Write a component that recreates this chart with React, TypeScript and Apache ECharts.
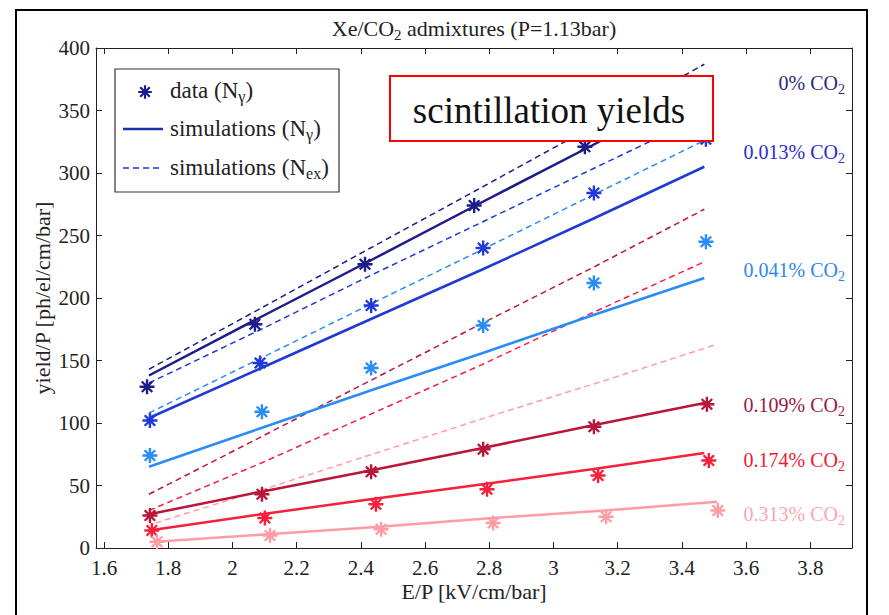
import React, { useEffect, useRef } from 'react';
import * as echarts from 'echarts';

const FONT = 'Liberation Serif';

// axis ticks
const xTicks = [1.6, 1.8, 2, 2.2, 2.4, 2.6, 2.8, 3, 3.2, 3.4, 3.6, 3.8];
const yTicks = [0, 50, 100, 150, 200, 250, 300, 350, 400];

// concentration labels
const concLabels = ['0%', '0.013%', '0.041%', '0.109%', '0.174%', '0.313%'];

// measured data (N_gamma)
const dataX0 = [1.734, 2.07, 2.413, 2.753, 3.098];
const dataY0 = [129, 179, 227, 274, 321];
const dataX1 = [1.743, 2.086, 2.432, 2.781, 3.126, 3.475];
const dataY1 = [102, 148, 194, 240, 284, 327];
const dataX2 = [1.743, 2.092, 2.432, 2.781, 3.126, 3.475];
const dataY2 = [74, 109, 144, 178, 212, 245];
const dataX3 = [1.743, 2.092, 2.432, 2.781, 3.126, 3.478];
const dataY3 = [26, 43, 61, 79, 97, 115];
const dataX4 = [1.749, 2.101, 2.447, 2.793, 3.139, 3.484];
const dataY4 = [14, 24, 35, 47, 58, 70];
const dataX5 = [1.765, 2.117, 2.463, 2.812, 3.164, 3.512];
const dataY5 = [5, 10, 15, 20, 25, 30];

// simulations
const simX = [1.74, 2.09, 2.43, 2.78, 3.12, 3.47];
const simX5 = [1.76, 2.11, 2.46, 2.81, 3.16, 3.51];
const simNg0 = [138, 185, 230, 277, 322, 369];
const simNex0 = [143, 192, 240, 289, 337, 387];
const simNg1 = [104, 144, 183, 223, 263, 305];
const simNex1 = [132, 175, 218, 261, 303, 346];
const simNg2 = [65, 96, 126, 156, 186, 216];
const simNex2 = [108, 152, 195, 239, 282, 326];
const simNg3 = [27, 45, 62, 80, 98, 116];
const simNex3 = [43, 89, 134, 180, 224, 271];
const simNg4 = [14, 27, 39, 51, 63, 76];
const simNex4 = [30, 68, 107, 147, 188, 229];
const simNg5 = [5, 11, 17, 24, 30, 37];
const simNex5 = [20, 48, 77, 106, 134, 163];

const colors = ['#1c1c8a', '#1f3ad6', '#2a8cf8', '#b8163a', '#f4203c', '#ff9ca4'];
const labelColors = ['#2a2a7a', '#2b2bd0', '#2e86f0', '#9c1848', '#ee1a30', '#ffa6ae'];
const labelY = [83, 152, 270, 405, 460, 514];

const STAR =
  'M-1.6,-10L1.6,-10L1.6,10L-1.6,10Z M-10,-1.6L10,-1.6L10,1.6L-10,1.6Z M-5.87,-8.13L8.13,5.87L5.87,8.13L-8.13,-5.87Z M8.13,-5.87L-5.87,8.13L-8.13,5.87L5.87,-8.13Z';

let registered = false;

const zip = (xs: number[], ys: number[]) => xs.map((x, i) => [x, ys[i]]);

export default function App() {
  const ref = useRef<HTMLDivElement>(null);
  useEffect(() => {
    document.body.style.margin = '0';
    if (!registered) {
      echarts.graphic.registerShape('asterisk', echarts.graphic.extendPath(STAR, {}) as any);
      registered = true;
    }
    const chart = echarts.init(ref.current!, null, { renderer: 'svg' });

    const groups = [
      { dx: dataX0, dy: dataY0, sx: simX, ng: simNg0, nex: simNex0 },
      { dx: dataX1, dy: dataY1, sx: simX, ng: simNg1, nex: simNex1 },
      { dx: dataX2, dy: dataY2, sx: simX, ng: simNg2, nex: simNex2 },
      { dx: dataX3, dy: dataY3, sx: simX, ng: simNg3, nex: simNex3 },
      { dx: dataX4, dy: dataY4, sx: simX, ng: simNg4, nex: simNex4 },
      { dx: dataX5, dy: dataY5, sx: simX5, ng: simNg5, nex: simNex5 },
    ];

    const series: any[] = [];
    groups.forEach((g, i) => {
      series.push({
        type: 'line',
        name: concLabels[i] + ' Nex',
        data: zip(g.sx, g.nex),
        showSymbol: false,
        z: 2,
        lineStyle: { color: colors[i], width: 1.5, type: [6, 4] },
        itemStyle: { color: colors[i] },
      });
      series.push({
        type: 'line',
        name: concLabels[i] + ' Ng',
        data: zip(g.sx, g.ng),
        showSymbol: false,
        z: 3,
        lineStyle: { color: colors[i], width: 2.5 },
        itemStyle: { color: colors[i] },
      });
      series.push({
        type: 'scatter',
        name: concLabels[i] + ' data',
        data: zip(g.dx, g.dy),
        symbol: 'path://' + STAR,
        symbolSize: 15,
        z: 4,
        itemStyle: { color: colors[i], opacity: 1 },
      });
    });

    const sub = (fs: number, fill: string, pad: number) => ({
      n: { fontSize: fs, fontFamily: FONT, fill },
      s: { fontSize: Math.round(fs * 0.7), fontFamily: FONT, fill, padding: [pad, 0, 0, 0] },
    });

    const axisColor = '#222';

    const graphics: any[] = [
      {
        type: 'rect',
        z: 0,
        silent: true,
        shape: { x: 16, y: 10, width: 851, height: 700 },
        style: { fill: 'none', stroke: '#000', lineWidth: 2 },
      },
      {
        type: 'text',
        z: 100,
        x: 474,
        y: 28,
        style: {
          text: '{n|Xe/CO}{s|2}{n| admixtures (P=1.13bar)}',
          rich: sub(22, '#222', 13),
          align: 'center',
          verticalAlign: 'middle',
        },
      },
      // axis names
      {
        type: 'text',
        z: 100,
        x: 474,
        y: 591,
        style: {
          text: 'E/P [kV/cm/bar]',
          fontSize: 22,
          fontFamily: FONT,
          fill: axisColor,
          align: 'center',
          verticalAlign: 'middle',
        },
      },
      {
        type: 'text',
        z: 100,
        x: 42,
        y: 298,
        rotation: Math.PI / 2,
        style: {
          text: 'yield/P [ph/el/cm/bar]',
          fontSize: 22,
          fontFamily: FONT,
          fill: axisColor,
          align: 'center',
          verticalAlign: 'middle',
        },
      },
      // legend box
      {
        type: 'rect',
        z: 100,
        shape: { x: 115, y: 69, width: 224, height: 123 },
        style: { fill: '#fff', stroke: '#333', lineWidth: 1.2 },
      },
      {
        type: 'asterisk',
        z: 101,
        x: 145,
        y: 92,
        scaleX: 0.68,
        scaleY: 0.68,
        style: { fill: colors[0] },
      },
      {
        type: 'text',
        z: 101,
        x: 170,
        y: 90,
        style: { text: '{n|data (N}{s|γ}{n|)}', rich: sub(23, '#222', 13), align: 'left', verticalAlign: 'middle' },
      },
      {
        type: 'line',
        z: 101,
        shape: { x1: 123, y1: 129, x2: 163, y2: 129 },
        style: { stroke: '#1a30a8', lineWidth: 2.5 },
      },
      {
        type: 'text',
        z: 101,
        x: 170,
        y: 128,
        style: { text: '{n|simulations (N}{s|γ}{n|)}', rich: sub(23, '#222', 13), align: 'left', verticalAlign: 'middle' },
      },
      {
        type: 'line',
        z: 101,
        shape: { x1: 123, y1: 168, x2: 163, y2: 168 },
        style: { stroke: '#2233dd', lineWidth: 1.5, lineDash: [6, 4] },
      },
      {
        type: 'text',
        z: 101,
        x: 170,
        y: 167,
        style: { text: '{n|simulations (N}{s|ex}{n|)}', rich: sub(23, '#222', 13), align: 'left', verticalAlign: 'middle' },
      },
      // scintillation yields box
      {
        type: 'rect',
        z: 100,
        shape: { x: 390, y: 76, width: 323, height: 65 },
        style: { fill: '#fff', stroke: '#ff0000', lineWidth: 2 },
      },
      {
        type: 'text',
        z: 101,
        x: 549,
        y: 110,
        style: {
          text: 'scintillation yields',
          fontSize: 37,
          fontFamily: FONT,
          fill: '#111',
          align: 'center',
          verticalAlign: 'middle',
        },
      },
    ];

    concLabels.forEach((lab, i) => {
      graphics.push({
        type: 'text',
        z: 101,
        x: 845,
        y: labelY[i],
        style: {
          text: '{n|' + lab + ' CO}{s|2}',
          rich: sub(20, labelColors[i], 12),
          align: 'right',
          verticalAlign: 'middle',
        },
      });
    });

    const xBase = {
      type: 'value',
      min: 1.575,
      max: 3.93,
      splitLine: { show: false },
      axisLabel: { show: false },
      axisLine: { show: true, onZero: false, lineStyle: { color: axisColor, width: 1 } },
      axisTick: { show: true, inside: true, length: 6, customValues: xTicks, lineStyle: { color: axisColor } },
    };
    const yBase = {
      type: 'value',
      min: 0,
      max: 400,
      interval: 50,
      splitLine: { show: false },
      axisLabel: { show: false },
      axisLine: { show: true, onZero: false, lineStyle: { color: axisColor, width: 1 } },
      axisTick: { show: true, inside: true, length: 6, lineStyle: { color: axisColor } },
    };

    chart.setOption({
      animation: false,
      backgroundColor: '#fff',
      textStyle: { fontFamily: FONT },
      grid: { left: 96, right: 37, top: 48, bottom: 67, containLabel: false, outerBoundsMode: 'none' },
      xAxis: [
        { ...xBase, position: 'bottom' },
        { ...xBase, position: 'top' },
      ],
      yAxis: [
        { ...yBase, position: 'left' },
        { ...yBase, position: 'right' },
      ],
      series,
      graphic: graphics,
    });

    // tick labels placed through the axes' own scales
    const tickTexts: any[] = [];
    xTicks.forEach((v) => {
      const px = chart.convertToPixel({ xAxisIndex: 0 }, v) as number;
      tickTexts.push({
        type: 'text',
        z: 100,
        x: px,
        y: 568,
        style: {
          text: String(v),
          fontSize: 21,
          fontFamily: FONT,
          fill: axisColor,
          align: 'center',
          verticalAlign: 'middle',
        },
      });
    });
    yTicks.forEach((v) => {
      const py = chart.convertToPixel({ yAxisIndex: 0 }, v) as number;
      tickTexts.push({
        type: 'text',
        z: 100,
        x: 90,
        y: py,
        style: {
          text: String(v),
          fontSize: 21,
          fontFamily: FONT,
          fill: axisColor,
          align: 'right',
          verticalAlign: 'middle',
        },
      });
    });
    chart.setOption({ graphic: [...graphics, ...tickTexts] });

    return () => chart.dispose();
  }, []);
  return <div ref={ref} style={{ width: 889, height: 615 }} />;
}
